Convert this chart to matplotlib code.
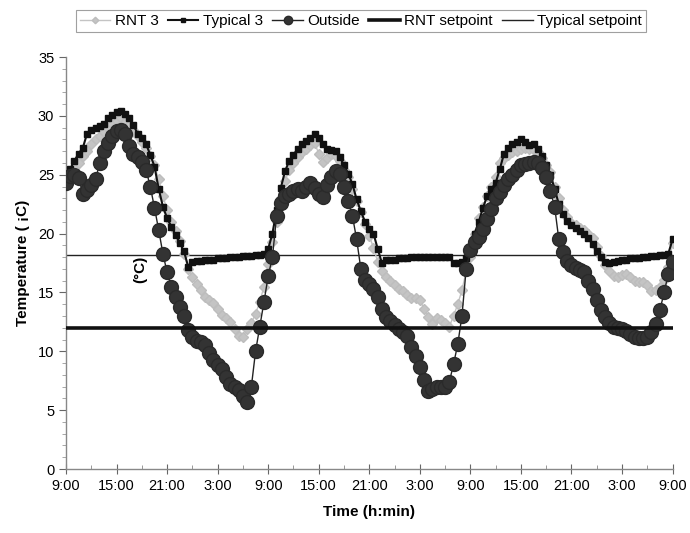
import numpy as np
import matplotlib
matplotlib.use("Agg")
import matplotlib.pyplot as plt
from matplotlib.ticker import MultipleLocator

plt.rcParams['font.family'] = ['Liberation Sans', 'DejaVu Sans']

# hours since 9:00 on day 1, sampled every half hour
hours = np.arange(0, 72.01, 0.5)

rnt3 = [24.3, 25.0, 25.5, 26.0, 26.6, 27.0, 27.6, 28.0, 28.3, 28.6,
        29.0, 29.3, 29.6, 29.8, 29.5, 29.2, 28.8, 28.3, 27.8, 27.3,
        26.6, 25.8, 24.6, 23.2, 22.0, 21.0, 20.2, 19.4, 18.3, 17.0,
        16.3, 15.7, 15.2, 14.6, 14.4, 14.1, 13.6, 13.1, 12.8, 12.5,
        11.9, 11.3, 11.2, 11.9, 12.4, 13.2, 14.2, 15.5, 17.4, 19.3,
        21.0, 23.0, 24.5, 25.4, 26.0, 26.5, 26.9, 27.2, 27.5, 27.7,
        26.8, 26.1, 26.4, 26.8, 26.6, 26.2, 25.4, 24.8, 23.8, 22.8,
        21.8, 20.8, 19.8, 18.8, 17.6, 16.8, 16.3, 16.0, 15.6, 15.3,
        15.1, 14.8, 14.5, 14.5, 14.4, 13.6, 12.9, 12.3, 12.8, 12.7,
        12.4, 12.1, 13.0, 14.0, 15.2, 16.8, 18.0, 20.0, 21.3, 22.3,
        23.2, 24.0, 24.8, 26.0, 26.4, 26.7, 26.9, 27.0, 27.2, 27.3,
        27.2, 27.1, 26.9, 26.4, 25.8, 25.2, 24.0, 23.0, 22.0, 21.4,
        20.9, 20.7, 20.5, 20.3, 20.0, 19.6, 18.9, 18.1, 17.3, 16.8,
        16.4, 16.3, 16.5, 16.6, 16.3, 16.0, 15.9, 15.9, 15.6, 15.1,
        15.2, 15.5, 16.1, 17.2, 19.2]

typical3 = [24.5, 25.5, 26.2, 26.8, 27.3, 28.5, 28.8, 29.0, 29.1, 29.3,
            29.8, 30.1, 30.3, 30.4, 30.2, 29.8, 29.2, 28.5, 28.1, 27.6,
            26.7, 25.7, 23.8, 22.3, 21.3, 20.6, 19.9, 19.2, 18.5, 17.2,
            17.6, 17.7, 17.7, 17.8, 17.8, 17.8, 17.9, 17.9, 17.9, 18.0,
            18.0, 18.0, 18.1, 18.1, 18.1, 18.2, 18.2, 18.3, 18.7, 20.0,
            22.0, 23.9, 25.3, 26.2, 26.7, 27.2, 27.6, 27.9, 28.1, 28.5,
            28.1, 27.6, 27.2, 27.1, 27.0, 26.5, 25.8, 25.1, 24.2, 22.9,
            21.9, 21.0, 20.4, 20.0, 18.7, 17.5, 17.8, 17.8, 17.8, 17.9,
            17.9, 17.9, 18.0, 18.0, 18.0, 18.0, 18.0, 18.0, 18.0, 18.0,
            18.0, 18.0, 17.5, 17.5, 17.6, 17.9, 18.4, 20.0, 21.0, 22.2,
            23.2, 23.8, 24.3, 25.5, 26.8, 27.3, 27.6, 27.8, 28.0, 27.8,
            27.5, 27.6, 27.2, 26.6, 25.8, 25.0, 23.8, 22.5, 21.7, 21.1,
            20.7, 20.5, 20.2, 20.0, 19.6, 19.1, 18.5, 18.0, 17.6, 17.5,
            17.6, 17.7, 17.8, 17.8, 17.9, 17.9, 17.9, 18.0, 18.0, 18.1,
            18.1, 18.2, 18.2, 18.3, 19.5]

outside = [24.3, 24.9, 25.0, 24.7, 23.4, 23.7, 24.1, 24.6, 26.0, 27.0,
           27.7, 28.3, 28.7, 28.8, 28.5, 27.4, 26.8, 26.5, 26.1, 25.4,
           24.0, 22.2, 20.3, 18.3, 16.7, 15.5, 14.6, 13.8, 13.0, 11.8,
           11.2, 10.9, 10.8, 10.5, 9.9, 9.3, 8.8, 8.5, 7.8, 7.2,
           7.0, 6.7, 6.2, 5.7, 7.0, 10.0, 12.1, 14.2, 16.4, 18.0,
           21.5, 22.6, 23.2, 23.4, 23.6, 23.8, 23.6, 24.0, 24.3, 23.9,
           23.4, 23.1, 24.1, 24.8, 25.3, 25.1, 24.0, 22.8, 21.5, 19.5,
           17.0, 16.1, 15.7, 15.3, 14.6, 13.6, 12.9, 12.6, 12.2, 11.9,
           11.6, 11.3, 10.4, 9.6, 8.7, 7.6, 6.6, 6.8, 7.0, 7.0,
           7.0, 7.4, 8.9, 10.6, 13.0, 17.0, 18.6, 19.3, 19.7, 20.4,
           21.2, 22.1, 23.0, 23.5, 24.1, 24.6, 25.0, 25.4, 25.8, 25.9,
           26.0, 26.1, 26.0, 25.6, 24.8, 23.6, 22.3, 19.5, 18.4, 17.7,
           17.3, 17.1, 16.9, 16.7, 16.0, 15.3, 14.4, 13.5, 12.9, 12.4,
           12.1, 12.0, 11.9, 11.7, 11.5, 11.2, 11.1, 11.1, 11.2, 11.6,
           12.3, 13.5, 15.0, 16.6, 17.6]

rnt_setpoint = 12.0
typical_setpoint = 18.2

tick_hours = np.arange(0, 73, 6)
tick_labels = ["9:00", "15:00", "21:00", "3:00", "9:00", "15:00", "21:00",
               "3:00", "9:00", "15:00", "21:00", "3:00", "9:00"]

fig = plt.figure(figsize=(6.9, 5.33), dpi=100)
ax = fig.add_axes([0.0957, 0.12, 0.879, 0.773])

ax.plot(hours, rnt3, color="#c4c4c4", marker="D", markersize=5.5,
        markeredgecolor="#bdbdbd", lw=1, label="RNT 3", zorder=2)
ax.plot(hours, typical3, color="#111111", marker="s", markersize=5,
        lw=1.5, label="Typical 3", zorder=3)
ax.plot(hours, outside, color="#222222", marker="o", markersize=10,
        markerfacecolor="#333333", markeredgecolor="#2a2a2a", lw=1,
        label="Outside", zorder=4)
ax.plot([0, 72], [rnt_setpoint, rnt_setpoint], color="#111111", lw=2.6,
        label="RNT setpoint", zorder=5)
ax.plot([0, 72], [typical_setpoint, typical_setpoint], color="#222222",
        lw=1, label="Typical setpoint", zorder=1)

ax.set_xlim(0, 72)
ax.set_ylim(0, 35)
ax.set_xticks(tick_hours)
ax.set_xticklabels(tick_labels)
ax.xaxis.set_minor_locator(MultipleLocator(3))
ax.yaxis.set_major_locator(MultipleLocator(5))
ax.yaxis.set_minor_locator(MultipleLocator(1))

for side in ("top", "right"):
    ax.spines[side].set_visible(False)
for side in ("left", "bottom"):
    ax.spines[side].set_color("#888888")
    ax.spines[side].set_linewidth(1)

ax.tick_params(axis="x", which="major", direction="inout", length=7,
               color="#666666", labelsize=10.5, pad=4)
ax.tick_params(axis="x", which="minor", direction="in", length=3,
               color="#888888")
ax.tick_params(axis="y", which="major", direction="out", length=5,
               color="#666666", labelsize=10.5)
ax.tick_params(axis="y", which="minor", direction="out", length=3,
               color="#999999")

ax.set_xlabel("Time (h:min)", fontsize=11, fontweight="bold", labelpad=8)
ax.set_ylabel("Temperature ( ¡C)", fontsize=11, fontweight="bold",
              labelpad=6)
ax.text(8.8, 17.0, "(°C)", rotation=90, fontsize=11, fontweight="bold",
        ha="center", va="center")

leg = fig.legend(loc="upper center", bbox_to_anchor=(0.523, 0.995), ncol=5,
                 fontsize=11, frameon=True, fancybox=False,
                 handlelength=2.0, handletextpad=0.3, columnspacing=0.6,
                 borderpad=0.25, markerscale=0.6)
leg.get_frame().set_edgecolor("#888888")
leg.get_frame().set_linewidth(0.8)

fig.savefig("out.png", dpi=100)
